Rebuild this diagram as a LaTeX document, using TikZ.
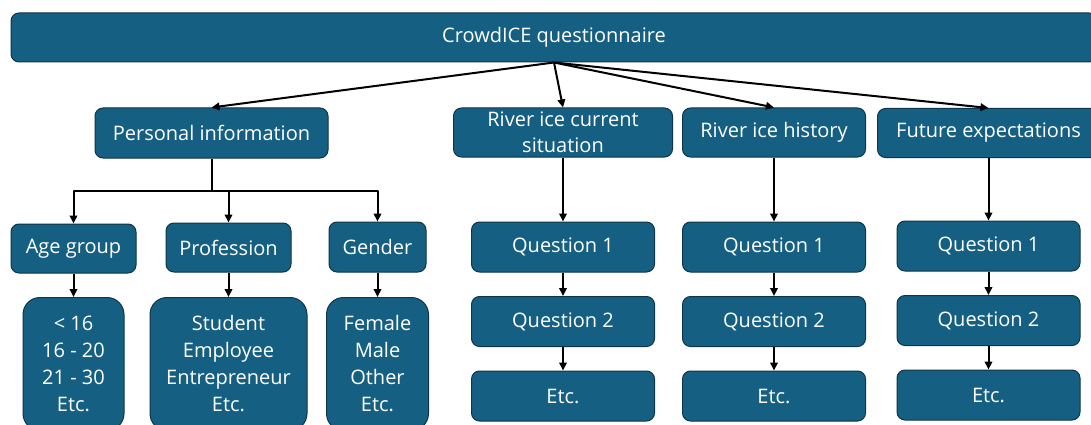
\documentclass[tikz,border=0pt]{standalone}
\usepackage{fontspec}
\setmainfont{Open Sans}
\usetikzlibrary{arrows.meta}
\definecolor{crowdBlue}{HTML}{156082}
\definecolor{crowdEdge}{HTML}{0E3549}
\providecommand{\crowdTextSize}{\fontsize{20}{26}\selectfont}
\providecommand{\crowdArrowWidth}{2pt}
\tikzset{
  qbox/.style={draw=crowdEdge, fill=crowdBlue, line width=1pt, rounded corners=8pt,
    text=white, align=center, inner sep=0pt, font=\crowdTextSize},
  listbox/.style={qbox, rounded corners=17pt, anchor=north, minimum height=133pt,
    font=\fontsize{20}{27}\selectfont},
  arr/.style={draw=black, line width=\crowdArrowWidth, -{Triangle[length=8pt,width=7.5pt]}},
}
\begin{document}
\begin{tikzpicture}
\begin{scope}[x=1pt, y=-1pt, line join=round]
  % Page frame of the picture
  \clip (0,0) rectangle (1091,425);
  \fill[white] (0,0) rectangle (1091,425);
  % Title bar
  \node[qbox, minimum width=1086pt, minimum height=49pt] (title) at (554,37.5) {CrowdICE questionnaire};
  % Sections
  \node[qbox, minimum width=233pt, minimum height=50pt] (pinfo) at (211.5,133) {Personal information};
  \node[qbox, minimum width=219pt, minimum height=49pt] (current) at (563,132.5) {River ice current\\situation};
  \node[qbox, minimum width=183pt, minimum height=49pt] (history) at (774,132.5) {River ice history};
  \node[qbox, minimum width=222pt, minimum height=49pt] (future) at (988.5,133) {Future expectations};
  % Personal information items
  \node[qbox, minimum width=125pt, minimum height=49pt] (age) at (73.5,248.5) {Age group};
  \node[qbox, minimum width=125pt, minimum height=49pt] (prof) at (228.5,247.5) {Profession};
  \node[qbox, minimum width=97pt, minimum height=50pt] (gender) at (377.5,247) {Gender};
  \node[listbox, minimum width=101pt] (agelist) at (73.5,297) {< 16\\16 - 20\\21 - 30\\Etc.};
  \node[listbox, minimum width=157pt] (proflist) at (228.5,297) {Student\\Employee\\Entrepreneur\\Etc.};
  \node[listbox, minimum width=102pt] (genderlist) at (377.5,297) {Female\\Male\\Other\\Etc.};
  % Question columns
  \node[qbox, minimum width=183pt, minimum height=50pt] (curq1) at (563,247) {Question 1};
  \node[qbox, minimum width=183pt, minimum height=50pt] (curq2) at (563,321.5) {Question 2};
  \node[qbox, minimum width=183pt, minimum height=50pt] (curq3) at (563,396) {Etc.};
  \node[qbox, minimum width=183pt, minimum height=50pt] (histq1) at (774,247) {Question 1};
  \node[qbox, minimum width=183pt, minimum height=50pt] (histq2) at (774,321.5) {Question 2};
  \node[qbox, minimum width=183pt, minimum height=50pt] (histq3) at (774,396) {Etc.};
  \node[qbox, minimum width=183pt, minimum height=50pt] (futq1) at (988.5,246) {Question 1};
  \node[qbox, minimum width=183pt, minimum height=50pt] (futq2) at (988.5,320.5) {Question 2};
  \node[qbox, minimum width=183pt, minimum height=50pt] (futq3) at (988.5,395) {Etc.};
  % Arrows from the title bar
  \draw[arr] (title.south) -- (pinfo.north);
  \draw[arr] (title.south) -- (current.north);
  \draw[arr] (title.south) -- (history.north);
  \draw[arr] (title.south) -- (future.north);
  % Fork below personal information
  \coordinate (pfork) at (211.5,191);
  \draw[line width=\crowdArrowWidth] (pinfo.south) -- (pfork);
  \draw[arr] (pfork) -| (age.north);
  \draw[arr] (pfork) -| (prof.north);
  \draw[arr] (pfork) -| (gender.north);
  \draw[arr] (age.south) -- (agelist.north);
  \draw[arr] (prof.south) -- (proflist.north);
  \draw[arr] (gender.south) -- (genderlist.north);
  % Arrows down the question columns
  \draw[arr] (current.south) -- (curq1.north);
  \draw[arr] (curq1.south) -- (curq2.north);
  \draw[arr] (curq2.south) -- (curq3.north);
  \draw[arr] (history.south) -- (histq1.north);
  \draw[arr] (histq1.south) -- (histq2.north);
  \draw[arr] (histq2.south) -- (histq3.north);
  \draw[arr] (future.south) -- (futq1.north);
  \draw[arr] (futq1.south) -- (futq2.north);
  \draw[arr] (futq2.south) -- (futq3.north);
\end{scope}
\end{tikzpicture}
\end{document}
